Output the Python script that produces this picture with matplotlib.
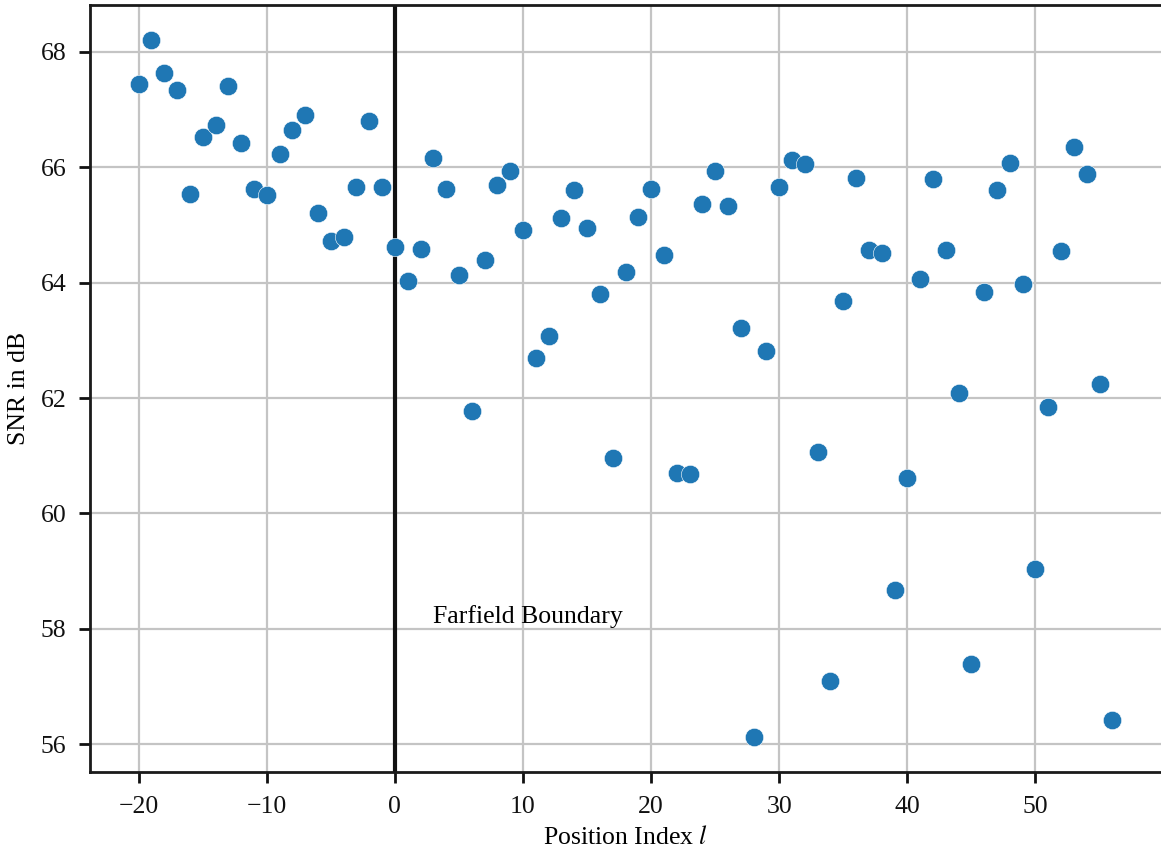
import numpy as np
import matplotlib
matplotlib.use("Agg")
import matplotlib.pyplot as plt

# position index and measured SNR (dB)
pos_idx = list(range(-20, 57))
snr_db = [67.44, 68.21, 67.64, 67.34, 65.53, 66.53, 66.74, 67.41, 66.43, 65.62,
          65.52, 66.23, 66.65, 66.90, 65.21, 64.72, 64.80, 65.66, 66.81, 65.66,
          64.62, 64.03, 64.59, 66.16, 65.63, 64.13, 61.77, 64.39, 65.70, 65.94,
          64.92, 62.70, 63.08, 65.12, 65.60, 64.94, 63.81, 60.96, 64.19, 65.14,
          65.63, 64.48, 60.70, 60.68, 65.37, 65.94, 65.33, 63.21, 56.12, 62.81,
          65.66, 66.12, 66.05, 61.06, 57.09, 63.68, 65.81, 64.57, 64.51, 58.67,
          60.61, 64.07, 65.80, 64.56, 62.09, 57.39, 63.83, 65.61, 66.08, 63.97,
          59.03, 61.85, 64.55, 66.35, 65.89, 62.25, 56.42]
boundary = 0
boundary_label = "Farfield Boundary"

plt.rcParams['font.family'] = ['Liberation Serif', 'DejaVu Serif']
plt.rcParams['mathtext.fontset'] = 'stix'
plt.rcParams['font.size'] = 18.5

fig = plt.figure(figsize=(11.61, 8.52), dpi=100)
ax = fig.add_axes([90/1161, 1-772/852, 1-90/1161, (772-5)/852])

ax.scatter(pos_idx, snr_db, s=175, color='#1f77b4', edgecolor='white',
           linewidth=0.4, zorder=3)
ax.axvline(boundary, color='#111111', lw=3, zorder=2)
ax.text(3, 58.1, boundary_label)

ax.grid(True, color='#c4c4c4', lw=1.6, zorder=0)
ax.set_axisbelow(True)
ax.set_yticks(np.arange(56, 69, 2))
ax.set_xticks(np.arange(-20, 51, 10))
ax.tick_params(direction='out', length=8, width=2, pad=9, colors='#111111')

for side in ['left', 'bottom', 'top']:
    ax.spines[side].set_linewidth(2)
    ax.spines[side].set_color('#1a1a1a')
ax.spines['right'].set_visible(False)

ax.set_xlabel("Position Index $l$", labelpad=6)
ax.set_ylabel("SNR in dB", labelpad=8)

fig.savefig("out.png", dpi=100)
